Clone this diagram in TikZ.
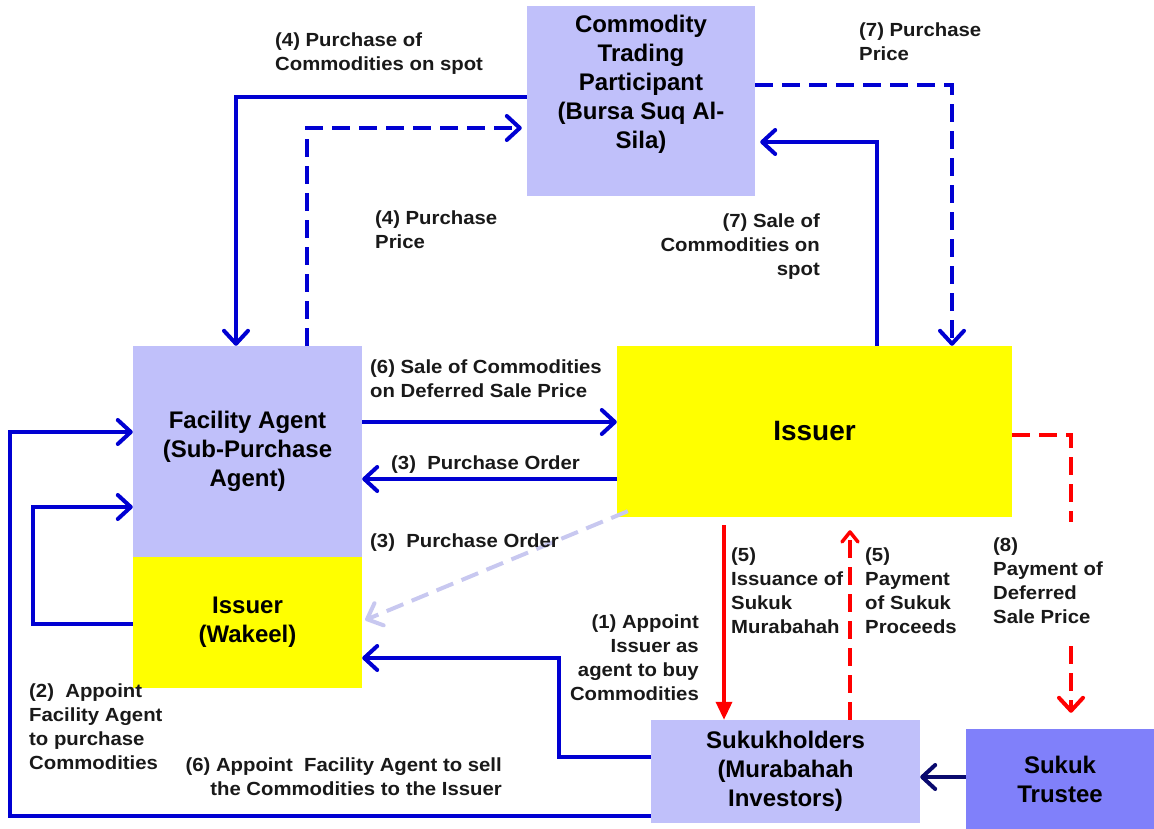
\documentclass[tikz,border=0pt]{standalone}
\usepackage{fontspec}
\setmainfont{Liberation Sans}
\newfontfamily\lblfamily[FakeStretch=1.07]{Liberation Sans}
\usetikzlibrary{arrows.meta, positioning, calc}

\definecolor{lavender}{RGB}{192,192,250}
\definecolor{trusteeblue}{RGB}{128,128,250}
\definecolor{flowblue}{RGB}{0,0,210}
\definecolor{flownavy}{RGB}{10,10,110}
\definecolor{paleblue}{RGB}{200,200,240}
\definecolor{flowred}{RGB}{255,0,0}
\definecolor{boxyellow}{RGB}{255,255,0}

\newcommand{\boxfont}{\fontsize{24}{29}\selectfont\bfseries}
\newcommand{\lblfont}{\lblfamily\fontsize{19}{24}\selectfont\bfseries}

\begin{document}
\begin{tikzpicture}[x=1pt, y=-1pt,
  box/.style={rectangle, inner sep=0pt, align=center, font=\boxfont},
  lbl/.style={inner sep=0pt, font=\lblfont, text=black!90},
  flow/.style={line width=4pt, draw=flowblue, -{Straight Barb[length=13pt,width=24pt,round]}},
  dflow/.style={flow, dash pattern=on 18pt off 9pt},
  redflow/.style={line width=3.5pt, draw=flowred, -{Triangle[length=18pt,width=16pt]}},
  dredflow/.style={line width=4pt, draw=flowred, dash pattern=on 18pt off 9pt, -{Straight Barb[length=13pt,width=24pt,round]}}]
  \useasboundingbox (0,0) rectangle (1154,829);

  % parties
  \node[box, fill=lavender, minimum width=228pt, minimum height=190pt] (ctp) at (641,101)
    {Commodity\\Trading\\Participant\\(Bursa Suq Al-\\Sila)\\\strut};
  \node[box, fill=lavender, minimum width=229pt, minimum height=211pt] (fa) at (247.5,451.5)
    {Facility Agent\\(Sub-Purchase\\Agent)};
  \node[box, fill=boxyellow, minimum width=229pt, minimum height=131pt] (wk) at (247.5,622.5)
    {Issuer\\(Wakeel)};
  \node[box, fill=boxyellow, minimum width=395pt, minimum height=171pt, font=\fontsize{28}{34}\selectfont\bfseries] (iss) at (814.5,431.5)
    {Issuer};
  \node[box, fill=lavender, minimum width=269pt, minimum height=103pt] (sh) at (785.5,771.5)
    {Sukukholders\\(Murabahah\\Investors)};
  \node[box, fill=trusteeblue, minimum width=188pt, minimum height=100pt] (st) at (1060,779)
    {Sukuk\\Trustee};

  % commodity legs
  \draw[flow] (ctp.west |- 0,97) -| ([xshift=-11.5pt]fa.north);
  \draw[dflow] ([xshift=59.5pt]fa.north) |- ([xshift=-5pt]ctp.west |- 0,128);
  \draw[dflow] (ctp.east |- 0,85) -| ([xshift=137.5pt]iss.north);
  \draw[flow] ([xshift=62.5pt]iss.north) |- ([xshift=5pt]ctp.east |- 0,142);
  \draw[flow] (fa.east |- 0,422) -- (iss.west |- 0,422);
  \draw[flow] (iss.west |- 0,479) -- (fa.east |- 0,479);
  \draw[dflow, draw=paleblue] ([xshift=11pt,yshift=6pt]iss.south west) -- ([xshift=3pt]wk.east |- 0,620);

  % appointments
  \draw[flow] (wk.west |- 0,624) -- (33,624) |- (fa.west |- 0,507);
  \draw[flow] (sh.west |- 0,816) -- (10,816) |- (fa.west |- 0,432);
  \draw[flow] (sh.west |- 0,757) -- (559,757) |- (wk.east |- 0,658);

  % sukuk
  \draw[redflow, shorten <=8pt] (iss.south -| 724,0) -- (sh.north -| 724,0);
  \draw[dredflow, line width=3.5pt, -{Straight Barb[length=10pt,width=16pt,round]}, shorten >=13pt] (sh.north -| 850,0) -- (iss.south -| 850,0);
  \draw[dredflow, shorten >=16pt] (iss.east |- 0,435) -| (st.north -| 1071,0);
  \draw[flow, draw=flownavy] (st.west |- 0,777) -- (sh.east |- 0,777);

  % labels
  \node[lbl, anchor=north west, align=left] (l4a) at (275,33) {(4) Purchase of\\Commodities on spot};
  \node[lbl, anchor=north west, align=left] (l4b) at (375,211) {(4) Purchase\\Price};
  \node[lbl, anchor=north west, align=left] (l7a) at (859,23) {(7) Purchase\\Price};
  \node[lbl, anchor=north east, align=right] (l7b) at (820,214) {(7) Sale of\\Commodities on\\spot};
  \node[lbl, anchor=north west, align=left] (l6a) at (370,360) {(6) Sale of Commodities\\on Deferred Sale Price};
  \node[lbl, anchor=north west] (l3a) at (391,456) {(3)\ \ Purchase Order};
  \node[lbl, anchor=north west] (l3b) at (370,534) {(3)\ \ Purchase Order};
  \node[lbl, anchor=north east, align=right] (l1) at (699,615) {(1) Appoint\\Issuer as\\agent to buy\\Commodities};
  \node[lbl, anchor=north west, align=left] (l5a) at (731,548) {(5)\\Issuance of\\Sukuk\\Murabahah};
  \node[lbl, anchor=north west, align=left] (l5b) at (865,548) {(5)\\Payment\\of Sukuk\\Proceeds};
  \node[lbl, anchor=north west, align=left, fill=white, inner ysep=16pt] (l8) at (993,522) {(8)\\Payment of\\Deferred\\Sale Price};
  \node[lbl, anchor=north west, align=left] (l2) at (29,684) {(2)\ \ Appoint\\Facility Agent\\to purchase\\Commodities};
  \node[lbl, anchor=north east, align=right] (l6b) at (502,758) {(6) Appoint\ \ Facility Agent to sell\\the Commodities to the Issuer};
\end{tikzpicture}
\end{document}
